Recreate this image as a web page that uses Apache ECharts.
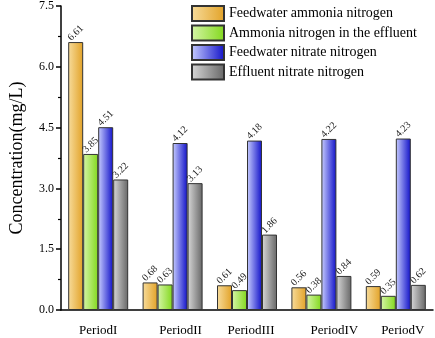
<!DOCTYPE html>
<html>
<head>
<meta charset="utf-8">
<script src="https://cdn.jsdelivr.net/npm/echarts@6/dist/echarts.min.js"></script>
<style>
  html, body { margin: 0; padding: 0; background: #fff; }
  #main { width: 435px; height: 338px; }
</style>
</head>
<body>
<div id="main"></div>
<script>
// nitrogen removal by period
var periods = ['PeriodI', 'PeriodII', 'PeriodIII', 'PeriodIV', 'PeriodV'];
var feedAmmonia = [6.61, 0.68, 0.61, 0.56, 0.59];
var effluentAmmonia = [3.85, 0.63, 0.49, 0.38, 0.35];
var feedNitrate = [4.51, 4.12, 4.18, 4.22, 4.23];
var effluentNitrate = [3.22, 3.13, 1.86, 0.84, 0.62];

var names = ['Feedwater ammonia nitrogen', 'Ammonia nitrogen in the effluent',
    'Feedwater nitrate nitrogen', 'Effluent nitrate nitrogen'];

var font = 'Liberation Serif, Times New Roman, serif';
var myChart = echarts.init(document.getElementById('main'));

function grad(a, b) {
    return new echarts.graphic.LinearGradient(0, 0, 1, 0, [
        {offset: 0, color: a},
        {offset: 1, color: b}
    ]);
}

// label shifts seen under the axis in the picture
var labelShift = [0, 16, 8, 26, 14];

function makeSeries(name, data, color) {
    return {
        name: name,
        type: 'bar',
        barWidth: 15,
        barGap: '0%',
        data: data,
        itemStyle: {
            color: color,
            borderColor: '#333',
            borderWidth: 1
        },
        label: {
            show: true,
            position: 'top',
            distance: 9,
            rotate: 45,
            align: 'center',
            verticalAlign: 'middle',
            fontFamily: font,
            fontSize: 10,
            color: '#222',
            formatter: function (p) { return p.value.toFixed(2); }
        }
    };
}

var option = {
    animation: false,
    grid: {left: 53, right: 2, top: 5, bottom: 28},
    legend: {
        orient: 'vertical',
        left: 186,
        top: 0,
        icon: 'rect',
        itemWidth: 32,
        itemHeight: 15,
        itemGap: 2.5,
        textStyle: {fontFamily: font, fontSize: 14, color: '#000'},
        data: names
    },
    xAxis: [{
        type: 'category',
        data: periods.map(function (p, i) {
            return {value: p, textStyle: {padding: [0, 0, 0, labelShift[i]]}};
        }),
        axisLine: {lineStyle: {color: '#000', width: 1.5}},
        axisTick: {alignWithLabel: true, length: 5, lineStyle: {color: '#000', width: 1.5}},
        axisLabel: {fontFamily: font, fontSize: 13, color: '#000', margin: 14}
    }, {
        type: 'category',
        data: periods,
        position: 'bottom',
        axisLine: {show: false},
        axisTick: {length: 2, lineStyle: {color: '#000', width: 1.5}},
        axisLabel: {show: false}
    }],
    yAxis: {
        type: 'value',
        min: 0,
        max: 7.5,
        interval: 1.5,
        name: 'Concentration(mg/L)',
        nameLocation: 'middle',
        nameGap: 35,
        nameTextStyle: {fontFamily: font, fontSize: 18, color: '#000'},
        axisLine: {show: true, lineStyle: {color: '#000', width: 1.5}},
        axisTick: {show: true, length: 5, lineStyle: {color: '#000', width: 1.5}},
        minorTick: {show: true, splitNumber: 2, length: 3, lineStyle: {color: '#000', width: 1.2}},
        splitLine: {show: false},
        axisLabel: {
            fontFamily: font, fontSize: 12, color: '#000', margin: 7,
            formatter: function (v) { return v.toFixed(1); }
        }
    },
    series: [
        makeSeries(names[0], feedAmmonia, grad('#f7dc9c', '#e2a227')),
        makeSeries(names[1], effluentAmmonia, grad('#d6f5a8', '#82d81c')),
        makeSeries(names[2], feedNitrate, grad('#c8ceff', '#1010c8')),
        makeSeries(names[3], effluentNitrate, grad('#d8d8d8', '#666666'))
    ]
};

myChart.setOption(option);
</script>
</body>
</html>
